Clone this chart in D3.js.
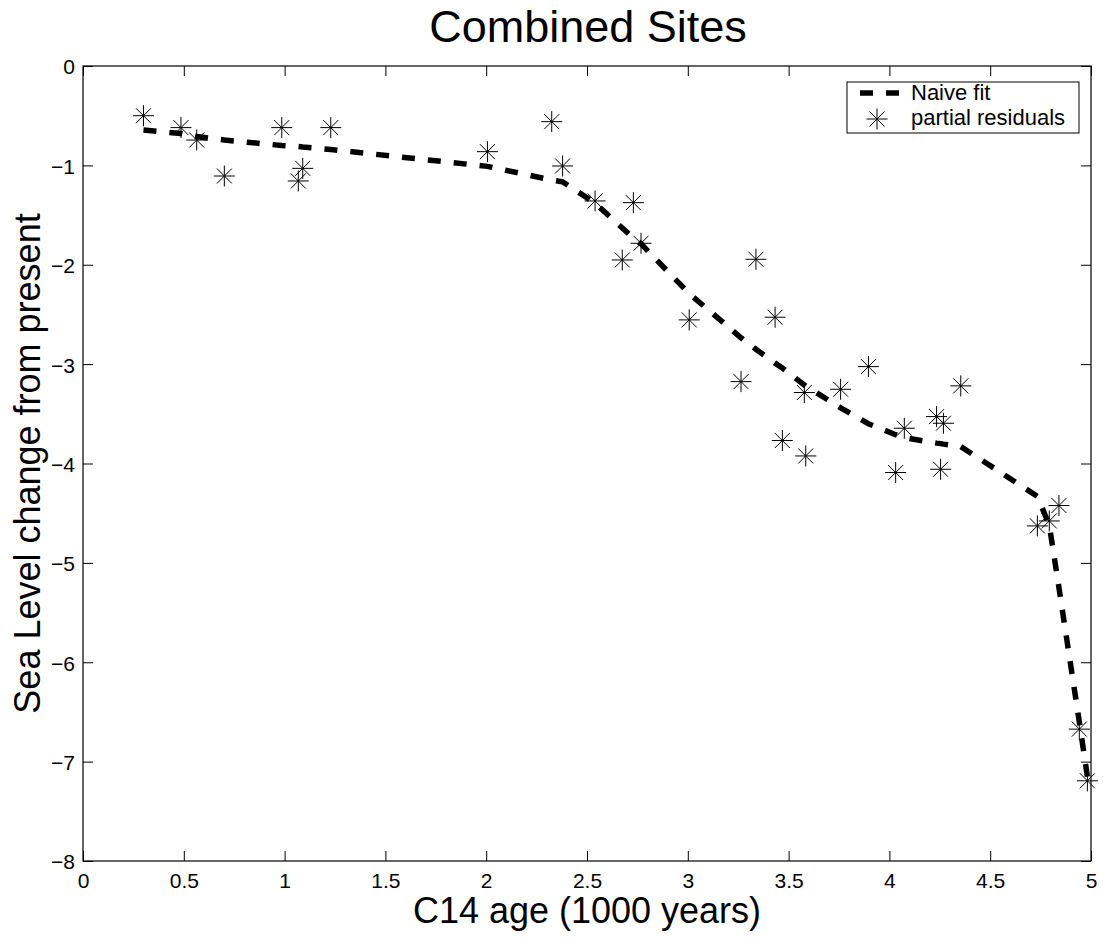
<!DOCTYPE html>
<html><head><meta charset="utf-8">
<script src="https://cdn.jsdelivr.net/npm/d3@7"></script>
<style>
body{margin:0;background:#fff}
svg{display:block}
text{font-family:"Liberation Sans",Arial,Helvetica,sans-serif;fill:#000}
</style>
</head><body>
<svg id="chart" width="1103" height="938"></svg>
<script>
// ---- data ----
const residualAge = [0.300, 0.486, 0.564, 0.701, 0.986, 1.068, 1.090, 1.229, 2.006, 2.325, 2.379, 2.540, 2.675, 2.730, 2.768, 3.007, 3.264, 3.338, 3.433, 3.469, 3.578, 3.585, 3.758, 3.896, 4.031, 4.074, 4.234, 4.254, 4.268, 4.354, 4.734, 4.793, 4.841, 4.942, 4.982];
const residualLevel = [-0.50, -0.62, -0.745, -1.107, -0.62, -1.157, -1.03, -0.62, -0.862, -0.56, -1.006, -1.358, -1.952, -1.375, -1.784, -2.555, -3.176, -1.945, -2.528, -3.769, -3.286, -3.924, -3.253, -3.025, -4.091, -3.645, -3.528, -4.058, -3.595, -3.219, -4.628, -4.578, -4.423, -6.673, -7.193];
const fitAge = [0.300, 0.486, 0.564, 0.701, 0.986, 1.068, 1.090, 1.229, 2.006, 2.325, 2.379, 2.540, 2.675, 2.730, 2.768, 3.007, 3.264, 3.338, 3.433, 3.469, 3.578, 3.585, 3.758, 3.896, 4.031, 4.074, 4.234, 4.254, 4.268, 4.354, 4.734, 4.793, 4.841, 4.942, 4.982];
const fitLevel = [-0.645, -0.68, -0.71, -0.745, -0.80, -0.81, -0.815, -0.84, -1.01, -1.147, -1.165, -1.38, -1.63, -1.73, -1.79, -2.29, -2.735, -2.85, -2.99, -3.04, -3.21, -3.22, -3.44, -3.60, -3.71, -3.74, -3.795, -3.80, -3.805, -3.83, -4.33, -4.62, -5.25, -6.60, -7.15];
const xTickValues = [0, 0.5, 1, 1.5, 2, 2.5, 3, 3.5, 4, 4.5, 5];
const xTickLabels = ["0", "0.5", "1", "1.5", "2", "2.5", "3", "3.5", "4", "4.5", "5"];
const yTickValues = [0, -1, -2, -3, -4, -5, -6, -7, -8];
const yTickLabels = ["0", "\u22121", "\u22122", "\u22123", "\u22124", "\u22125", "\u22126", "\u22127", "\u22128"];
const titleText = "Combined Sites";
const xLabelText = "C14 age (1000 years)";
const yLabelText = "Sea Level change from present";
const legendLabels = ["Naive fit", "partial residuals"];

// ---- layout ----
const W = 1103, H = 938;
const plot = {left: 83, top: 66, right: 1091, bottom: 861};
const svg = d3.select("#chart");
svg.append("rect").attr("width", W).attr("height", H).attr("fill", "#fff");

const x = d3.scaleLinear().domain([0, 5]).range([plot.left, plot.right]);
const y = d3.scaleLinear().domain([-8, 0]).range([plot.bottom, plot.top]);

function styleAxis(g) {
  g.select(".domain").remove();
  g.selectAll(".tick line").attr("stroke", "#000").attr("stroke-width", 1);
  g.selectAll(".tick text").attr("font-size", 21).attr("fill", "#000");
}

// bottom
svg.append("g").attr("transform", `translate(0,${plot.bottom})`)
  .call(d3.axisBottom(x).tickValues(xTickValues).tickFormat((d, i) => xTickLabels[i]).tickSizeInner(-10).tickSizeOuter(0).tickPadding(12))
  .call(styleAxis);
// top (ticks only)
svg.append("g").attr("transform", `translate(0,${plot.top})`)
  .call(d3.axisTop(x).tickValues(xTickValues).tickFormat("").tickSizeInner(-10).tickSizeOuter(0))
  .call(styleAxis);
// left
svg.append("g").attr("transform", `translate(${plot.left},0)`)
  .call(d3.axisLeft(y).tickValues(yTickValues).tickFormat((d, i) => yTickLabels[i]).tickSizeInner(-10).tickSizeOuter(0).tickPadding(8))
  .call(styleAxis)
  .selectAll(".tick text").attr("dy", "0.38em");
// right (ticks only)
svg.append("g").attr("transform", `translate(${plot.right},0)`)
  .call(d3.axisRight(y).tickValues(yTickValues).tickFormat("").tickSizeInner(-10).tickSizeOuter(0))
  .call(styleAxis);

// box
svg.append("rect")
  .attr("x", plot.left).attr("y", plot.top)
  .attr("width", plot.right - plot.left).attr("height", plot.bottom - plot.top)
  .attr("fill", "none").attr("stroke", "#000").attr("stroke-width", 1.2);

// fit line
const line = d3.line().x(d => x(d[0])).y(d => y(d[1]));
svg.append("path")
  .datum(fitAge.map((a, i) => [a, fitLevel[i]]))
  .attr("d", line)
  .attr("fill", "none").attr("stroke", "#000").attr("stroke-width", 5.5)
  .attr("stroke-dasharray", "13,13").attr("stroke-linejoin", "miter");

// star markers (+ and x)
function starPath(cx, cy) {
  const a = 10.5, b = 7.5;
  return `M${cx - a},${cy}L${cx + a},${cy}M${cx},${cy - a}L${cx},${cy + a}` +
         `M${cx - b},${cy - b}L${cx + b},${cy + b}M${cx - b},${cy + b}L${cx + b},${cy - b}`;
}
svg.append("g").selectAll("path")
  .data(residualAge.map((a, i) => [a, residualLevel[i]]))
  .join("path")
  .attr("d", d => starPath(x(d[0]), y(d[1])))
  .attr("fill", "none").attr("stroke", "#000").attr("stroke-width", 1);

// title & labels
svg.append("text").attr("x", (plot.left + plot.right) / 2 + 1).attr("y", 42)
  .attr("text-anchor", "middle").attr("font-size", 45).text(titleText);
svg.append("text").attr("x", (plot.left + plot.right) / 2).attr("y", 923)
  .attr("text-anchor", "middle").attr("font-size", 36).text(xLabelText);
svg.append("text")
  .attr("transform", `translate(40,${(plot.top + plot.bottom) / 2}) rotate(-90)`)
  .attr("text-anchor", "middle").attr("font-size", 36).text(yLabelText);

// legend
const lg = svg.append("g");
lg.append("rect").attr("x", 847).attr("y", 82).attr("width", 232).attr("height", 51)
  .attr("fill", "#fff").attr("stroke", "#000").attr("stroke-width", 1);
lg.append("line").attr("x1", 860).attr("x2", 900).attr("y1", 93).attr("y2", 93)
  .attr("stroke", "#000").attr("stroke-width", 5.5).attr("stroke-dasharray", "13,13");
lg.append("path").attr("d", starPath(877, 119)).attr("fill", "none").attr("stroke", "#000").attr("stroke-width", 1);
lg.append("text").attr("x", 911).attr("y", 100).attr("font-size", 22).text(legendLabels[0]);
lg.append("text").attr("x", 911).attr("y", 125).attr("font-size", 22).text(legendLabels[1]);
</script>
</body></html>
